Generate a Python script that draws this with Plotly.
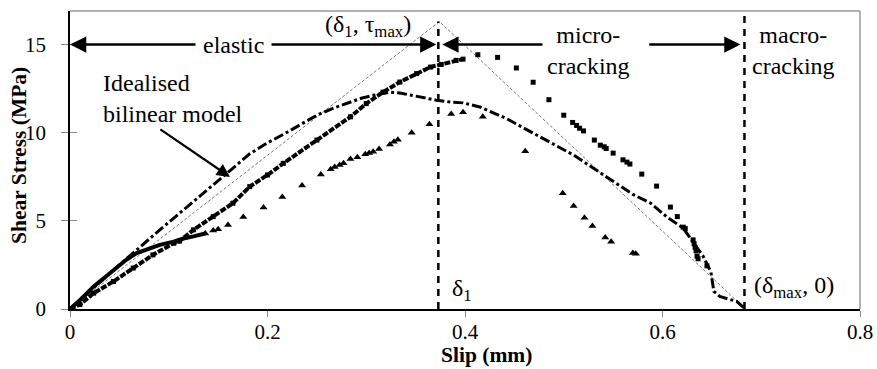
import plotly.graph_objects as go

# ---------------- data ----------------
# dash-dot test series
slip_dd = [0, 0.02, 0.05, 0.091, 0.142, 0.16, 0.182, 0.2, 0.216, 0.233, 0.25, 0.267,
           0.284, 0.295, 0.307, 0.315, 0.324, 0.334, 0.351, 0.371, 0.385, 0.398,
           0.415, 0.442, 0.476, 0.51, 0.543, 0.57, 0.588, 0.604, 0.621, 0.641,
           0.649, 0.651, 0.652, 0.658, 0.666, 0.675, 0.684]
stress_dd = [0, 1.0, 2.5, 4.49, 6.94, 7.75, 8.8, 9.42, 9.9, 10.45, 10.99, 11.4,
             11.74, 11.95, 12.12, 12.22, 12.3, 12.25, 12.06, 11.84, 11.74, 11.69,
             11.46, 10.8, 9.76, 8.73, 7.5, 6.5, 6.0, 5.24, 4.58, 3.0,
             2.1, 1.4, 1.0, 0.71, 0.58, 0.43, 0.0]

# square-marker test series (dense part up to index sq_dense_end)
slip_sq = [0, 0.01, 0.024, 0.044, 0.064, 0.084, 0.105, 0.111, 0.125, 0.145, 0.165,
           0.182, 0.2, 0.216, 0.25, 0.284, 0.3, 0.317, 0.334, 0.351, 0.365, 0.376,
           0.391, 0.398,
           0.413, 0.433, 0.452, 0.469, 0.485, 0.5, 0.509, 0.513, 0.516, 0.52,
           0.531, 0.537, 0.541, 0.543, 0.55, 0.56, 0.564, 0.567, 0.579, 0.594,
           0.608, 0.615, 0.621, 0.623, 0.631, 0.632, 0.633, 0.634, 0.635, 0.636,
           0.645]
stress_sq = [0, 0.25, 0.9, 1.56, 2.32, 3.07, 3.73, 3.85, 4.49, 5.24, 6.0,
             6.94, 7.6, 8.26, 9.58, 10.9, 11.65, 12.3, 12.87, 13.35, 13.72, 13.87,
             14.1, 14.17,
             14.42, 14.27, 13.67, 12.86, 11.87, 10.99, 10.58, 10.41, 10.25, 10.1,
             9.58, 9.29, 9.2, 9.1, 8.84, 8.46, 8.33, 8.22, 7.65, 6.97,
             5.78, 5.24, 4.64, 4.56, 3.92, 3.7, 3.5, 3.3, 3.0, 2.85,
             2.45]
sq_dense_end = 24

# triangle-marker test series (dense part up to index tri_dense_end)
slip_tri = [0, 0.01, 0.024, 0.044, 0.057, 0.0675, 0.08, 0.091, 0.105, 0.115, 0.125,
            0.137,
            0.145, 0.15, 0.16, 0.1755, 0.196, 0.215, 0.235, 0.254, 0.264, 0.268,
            0.273, 0.277, 0.284, 0.291, 0.299, 0.303, 0.307, 0.313, 0.324, 0.328,
            0.332, 0.346, 0.364, 0.386, 0.398, 0.418, 0.461, 0.499, 0.51, 0.521,
            0.529, 0.542, 0.548, 0.57, 0.573]
stress_tri = [0, 0.5, 1.28, 2.22, 2.79, 3.17, 3.45, 3.64, 3.82, 4.0, 4.12,
              4.28,
              4.45, 4.52, 4.77, 5.22, 5.75, 6.35, 7.0, 7.63, 7.93, 8.05,
              8.16, 8.27, 8.5, 8.6, 8.77, 8.84, 8.92, 9.07, 9.33, 9.48,
              9.6, 10.0, 10.48, 11.06, 11.16, 10.9, 8.95, 6.56, 5.84, 5.18,
              4.71, 4.05, 3.82, 3.17, 3.13]
tri_dense_end = 12

# idealised bilinear model
bilinear_slip = [0, 0.374, 0.684]
bilinear_stress = [0, 16.3, 0]

delta1 = 0.373
delta_max = 0.683
arrow_level = 15

x_range = [0, 0.8]
y_range = [0, 16.9]
x_ticks = [0, 0.2, 0.4, 0.6, 0.8]
x_ticktext = ["0", "0.2", "0.4", "0.6", "0.8"]
y_ticks = [0, 5, 10, 15]

FONT = "Liberation Serif, Times New Roman, DejaVu Serif, serif"

fig = go.Figure()

# idealised bilinear model (thin dotted)
fig.add_trace(go.Scatter(x=bilinear_slip, y=bilinear_stress, mode="lines",
                         line=dict(color="#555555", width=0.8, dash="3px,2px"),
                         hoverinfo="skip"))

# dash-dot series
fig.add_trace(go.Scatter(x=slip_dd, y=stress_dd, mode="lines",
                         line=dict(color="black", width=3, dash="10px,3px,3px,3px")))

# triangle series: dense part as thick line, rest as markers
fig.add_trace(go.Scatter(x=slip_tri[:tri_dense_end], y=stress_tri[:tri_dense_end],
                         mode="lines", line=dict(color="black", width=4)))
fig.add_trace(go.Scatter(x=slip_tri[tri_dense_end - 1:], y=stress_tri[tri_dense_end - 1:],
                         mode="markers",
                         marker=dict(symbol="triangle-up", size=7, color="black")))

# square series: dense part as thick line + markers, rest as markers
fig.add_trace(go.Scatter(x=slip_sq[:sq_dense_end], y=stress_sq[:sq_dense_end],
                         mode="lines", line=dict(color="black", width=4, dash="6px,1.5px")))
fig.add_trace(go.Scatter(x=slip_sq, y=stress_sq, mode="markers",
                         marker=dict(symbol="square", size=5, color="black")))

# vertical dashed boundaries
fig.add_trace(go.Scatter(x=[delta1, delta1], y=[0, bilinear_stress[1]], mode="lines",
                         line=dict(color="black", width=2.5, dash="7px,6px")))
fig.add_trace(go.Scatter(x=[delta_max, delta_max], y=[0, y_range[1]], mode="lines",
                         line=dict(color="black", width=2.5, dash="7px,6px")))

# dummy trace for the inner tick overlay axis
fig.add_trace(go.Scatter(x=[None], y=[None], yaxis="y2", showlegend=False))

ann = []
tf = dict(family=FONT, size=24, color="black")

# elastic double arrow
ann.append(dict(x=0, y=arrow_level, ax=0.166, ay=arrow_level, xref="x", yref="y",
                axref="x", ayref="y", text="", showarrow=True, arrowhead=2,
                arrowsize=1.3, arrowwidth=2.5, arrowcolor="black"))
ann.append(dict(x=delta1 - 0.002, y=arrow_level, ax=0.166, ay=arrow_level, xref="x",
                yref="y", axref="x", ayref="y", text="", showarrow=True, arrowhead=2,
                arrowsize=1.3, arrowwidth=2.5, arrowcolor="black"))
ann.append(dict(x=0.166, y=arrow_level, xref="x", yref="y", text=" elastic ",
                showarrow=False, bgcolor="white", font=tf))

# micro-cracking arrows
ann.append(dict(x=delta1 + 0.004, y=arrow_level, ax=0.48, ay=arrow_level, xref="x",
                yref="y", axref="x", ayref="y", text="", showarrow=True, arrowhead=2,
                arrowsize=1.3, arrowwidth=2.5, arrowcolor="black"))
ann.append(dict(x=delta_max - 0.004, y=arrow_level, ax=0.585, ay=arrow_level, xref="x",
                yref="y", axref="x", ayref="y", text="", showarrow=True, arrowhead=2,
                arrowsize=1.3, arrowwidth=2.5, arrowcolor="black"))
ann.append(dict(x=0.5246, y=14.65, xref="x", yref="y", text="micro-<br>cracking",
                showarrow=False, bgcolor="white", font=tf, align="center"))
ann.append(dict(x=0.733, y=14.65, xref="x", yref="y", text="macro-<br>cracking",
                showarrow=False, font=tf, align="center"))

# idealised label + arrow
ann.append(dict(x=0.031, y=11.95, xref="x", yref="y", xanchor="left",
                text="Idealised<br>bilinear model", showarrow=False, font=tf,
                align="left"))
ann.append(dict(x=0.162, y=7.49, ax=0.090, ay=10.25, xref="x", yref="y", axref="x",
                ayref="y", text="", showarrow=True, arrowhead=2, arrowsize=1.2,
                arrowwidth=2.2, arrowcolor="black"))

# point labels
ann.append(dict(x=0.302, y=16.05, xref="x", yref="y",
                text="(δ<sub>1</sub>, τ<sub>max</sub>)", showarrow=False, font=tf))
ann.append(dict(x=0.385, y=1.05, xref="x", yref="y", xanchor="left",
                text="δ<sub>1</sub>", showarrow=False, font=tf))
ann.append(dict(x=0.691, y=1.25, xref="x", yref="y", xanchor="left",
                text="(δ<sub>max</sub>, 0)", showarrow=False, font=tf))

# axis titles
ann.append(dict(x=0.527, y=-0.153, xref="paper", yref="paper", yanchor="middle",
                text="<b>Slip (mm)</b>", showarrow=False,
                font=dict(family=FONT, size=21.5, color="black")))
ann.append(dict(x=-0.0646, y=0.517, xref="paper", yref="paper", xanchor="center",
                yanchor="middle", textangle=-90, text="<b>Shear Stress (MPa)</b>",
                showarrow=False, font=dict(family=FONT, size=21.5, color="black")))

fig.update_layout(
    width=877, height=369,
    margin=dict(l=70, r=17, t=11, b=60, autoexpand=False),
    paper_bgcolor="white", plot_bgcolor="white",
    showlegend=False,
    font=dict(family=FONT, size=21, color="black"),
    xaxis=dict(range=x_range, tickvals=x_ticks, ticktext=x_ticktext,
               showgrid=False, zeroline=False, showline=True, linecolor="black",
               linewidth=1.5, ticks="outside", ticklen=6, tickcolor="#888888",
               tickfont=dict(family=FONT, size=21), ticklabelstandoff=-3,
               automargin=False),
    yaxis=dict(range=y_range, tickvals=y_ticks, showgrid=False, zeroline=False,
               showline=True, linecolor="black", linewidth=1.5, ticks="outside",
               ticklen=7, tickcolor="#888888", tickfont=dict(family=FONT, size=21),
               ticklabelstandoff=11, automargin=False),
    yaxis2=dict(range=y_range, tickvals=y_ticks, overlaying="y", side="left",
                showgrid=False, zeroline=False, showline=False, ticks="inside",
                ticklen=7, tickcolor="#888888", showticklabels=False,
                automargin=False),
    annotations=ann,
    shapes=[
        dict(type="line", xref="paper", yref="paper", x0=0, x1=1, y0=1, y1=1,
             line=dict(color="#666666", width=1.2)),
        dict(type="line", xref="paper", yref="paper", x0=1, x1=1, y0=0, y1=1,
             line=dict(color="#999999", width=1.5)),
    ],
)

fig.write_html("out.html")
